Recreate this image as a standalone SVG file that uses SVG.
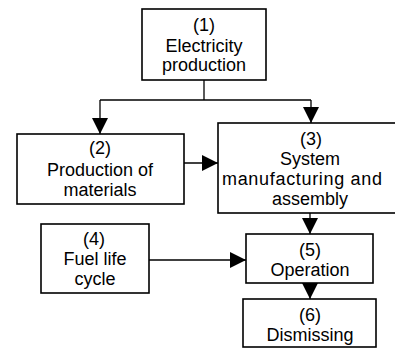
<svg xmlns="http://www.w3.org/2000/svg" width="395" height="351" viewBox="0 0 395 351">
<style>
.box{fill:#fff;stroke:#000;stroke-width:1.6}
.ln{fill:none;stroke:#000;stroke-width:1.3}
text{font-family:"Liberation Sans",Arial,sans-serif;font-size:18px;fill:#000;text-anchor:middle}
</style>
<defs>
<marker id="ah" markerUnits="userSpaceOnUse" markerWidth="16" markerHeight="16" viewBox="0 0 16 16" refX="16" refY="8" orient="auto">
<path d="M0,0 L16,8 L0,16 Z" fill="#000"/>
</marker>
</defs>
<g id="connectors">
<path class="ln" d="M204,80 V100"/>
<path class="ln" d="M100,100 H311"/>
<path class="ln" d="M100,100 V134" marker-end="url(#ah)"/>
<path class="ln" d="M311,100 V123" marker-end="url(#ah)"/>
<path class="ln" d="M184,163 H218" marker-end="url(#ah)"/>
<path class="ln" d="M310,213 V234" marker-end="url(#ah)"/>
<path class="ln" d="M149,260 H246" marker-end="url(#ah)"/>
<path class="ln" d="M310,283 V299" marker-end="url(#ah)"/>
</g>
<g id="n1">
<rect class="box" x="142" y="9" width="124" height="71"/>
<text x="204" y="31">(1)</text>
<text x="204" y="52">Electricity</text>
<text x="204" y="71">production</text>
</g>
<g id="n2">
<rect class="box" x="17" y="134" width="167" height="70"/>
<text x="100" y="154">(2)</text>
<text x="100" y="176">Production of</text>
<text x="100" y="196">materials</text>
</g>
<g id="n3">
<rect class="box" x="218" y="123" width="182" height="90"/>
<text x="311" y="145">(3)</text>
<text x="310" y="165">System</text>
<text x="302" y="185" textLength="160" lengthAdjust="spacing">manufacturing and</text>
<text x="310" y="205">assembly</text>
</g>
<g id="n4">
<rect class="box" x="41" y="224" width="108" height="69"/>
<text x="94" y="245">(4)</text>
<text x="95" y="265">Fuel life</text>
<text x="95" y="285">cycle</text>
</g>
<g id="n5">
<rect class="box" x="246" y="234" width="127" height="49"/>
<text x="310" y="256">(5)</text>
<text x="310" y="276">Operation</text>
</g>
<g id="n6">
<rect class="box" x="243" y="299" width="133" height="48"/>
<text x="310" y="321">(6)</text>
<text x="310" y="341">Dismissing</text>
</g>
</svg>
